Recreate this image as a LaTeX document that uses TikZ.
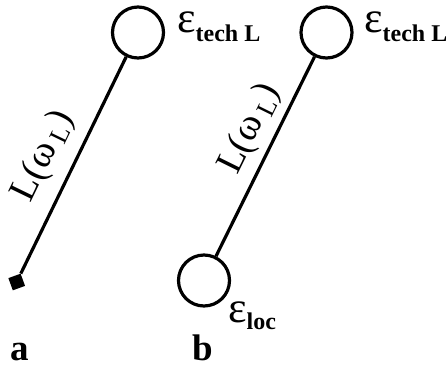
\documentclass[tikz,border=0pt]{standalone}
\usepackage{fontspec}
\setmainfont{Liberation Serif}
\usetikzlibrary{positioning,calc}
\tikzset{
  site/.style={circle, draw, line width=3.2pt, minimum size=51pt, inner sep=0pt},
  bond/.style={line width=3.2pt},
  tipbox/.style={fill, rectangle, minimum size=13pt, inner sep=0pt, rotate=20},
  elabel/.style={font=\fontsize{44}{44}\selectfont, inner sep=0pt, text height=20pt, anchor=base west},
  panel/.style={font=\fontsize{37}{37}\selectfont\bfseries, inner sep=0pt, anchor=base west},
  llabel/.style={font=\fontsize{38}{38}\selectfont, sloped, inner sep=0pt, anchor=south}
}
\newcommand{\lowtext}[2]{\raisebox{-#1}{\fontsize{24}{24}\selectfont\bfseries #2}}
\newcommand{\bondlabel}{L(ω\hspace{6pt}\raisebox{-5pt}{\fontsize{26}{26}\selectfont L})}

\begin{document}
\begin{tikzpicture}[x=1pt, y=1pt]
\useasboundingbox (0,0) rectangle (446,368);
% panel a
\node[site] (ta) at (138,335.5) {};
\node[tipbox] (sa) at (16.7,86) {};
\draw[bond] (sa) -- node[llabel, pos=0.48, above=12pt] (la) {\bondlabel} (ta);
\node[elabel] (ea) at (177,336) {ε\lowtext{9pt}{tech L}};
\node[panel] (pa) at (10,8) {a};
% panel b
\node[site] (tb) at (326.5,335.5) {};
\node[site] (bb) at (204,87.5) {};
\draw[bond] (bb) -- node[llabel, pos=0.58, above=7pt] (lb) {\bondlabel} (tb);
\node[elabel] (eb) at (364,336) {ε\lowtext{9pt}{tech L}};
\node[elabel] (el) at (228,46) {ε\lowtext{7pt}{loc}};
\node[panel] (pb) at (192,8) {b};
\end{tikzpicture}
\end{document}
